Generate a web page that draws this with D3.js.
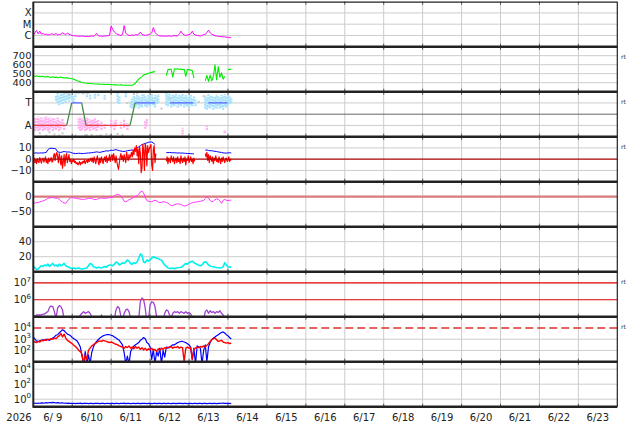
<!DOCTYPE html>
<html><head><meta charset="utf-8">
<script src="https://cdn.jsdelivr.net/npm/d3@7"></script>
<style>
html,body{margin:0;padding:0;background:#fff;}
svg{display:block;font-family:"DejaVu Sans",sans-serif;}
text{white-space:pre;}
</style></head><body>
<svg id="c" width="634" height="424"></svg>
<script>
// ---------------- DATA ----------------
// time axis: days since 2026-06-09 00:00 UT, 15 days shown
const dateLabels = ["6/ 9","6/10","6/11","6/12","6/13","6/14","6/15","6/16","6/17","6/18","6/19","6/20","6/21","6/22","6/23"];
const yearLabel = "2026";
// hourly samples (hours since start)
const hours = d3.range(123);

// X-ray flux, in units of 1e-6 W/m^2 (C-class)
const xrayC = [
1.1,1.8,2.8,1.4,2.4,1.3,1.5,1.2,1.3,1.1,1.2,1.4,
1.3,1.2,1.5,1.1,1.2,1.3,1.7,1.4,1.2,1.6,1.3,1.1,
1.0,0.95,0.9,0.9,0.85,0.85,0.9,0.85,0.8,0.85,0.8,0.85,
0.9,0.85,1.0,1.5,0.95,0.9,0.85,0.85,0.9,0.9,0.95,1.0,
7.0,3.2,2.0,1.5,1.2,1.1,1.0,1.2,7.5,1.6,1.2,1.0,
1.0,1.1,1.0,1.2,1.1,1.3,2.0,1.2,1.1,1.0,1.1,1.2,
1.3,1.7,5.0,1.9,1.3,1.0,0.9,0.9,0.85,0.9,0.85,0.9,
0.9,0.85,0.9,1.0,0.9,0.95,1.3,2.4,1.4,1.1,1.0,1.1,
1.2,1.4,2.4,1.3,1.1,1.0,0.95,0.9,1.0,1.2,1.3,1.8,
2.9,1.7,1.3,1.1,0.95,0.9,0.85,0.8,0.8,0.75,0.75,0.7,
0.7,0.65,0.62];
const xrayTickValues = [1e-4,1e-5,1e-6];
const xrayTickLabels = ["X","M","C"];

// Solar wind speed km/s
const windSpeed = [
478,470,476,468,472,465,471,462,466,470,462,458,
466,457,462,455,460,463,456,454,452,456,449,447,
444,438,430,422,415,409,403,399,396,394,392,391,
389,388,386,385,384,383,382,383,381,380,382,380,
379,378,376,378,375,374,376,373,372,374,371,372,
372,371,380,396,420,440,455,468,485,492,498,505,
510,515,520,525,null,null,null,null,null,null,480,545,
548,552,462,555,550,556,548,552,545,550,470,548,
545,540,535,450,null,null,null,null,null,null,420,480,
415,485,420,470,600,430,580,460,510,440,470,null,
545,550,548];
const speedTickValues = [700,600,500,400];

// IMF sector: scatter ranges [hour, lo, hi] (T = +1, A = -1)
const sectorTowardPts = [
[14,1.2,1.7],[15,1.0,1.9],[16,0.8,1.6],[17,1.1,1.9],[18,0.9,1.8],[19,1.2,1.9],[20,1.0,1.7],[21,1.3,1.9],[22,1.1,1.8],[23,1.4,1.9],[24,1.2,1.8],[25,1.0,1.6],[26,1.5,1.9],
[33,1.5,1.9],[35,1.3,1.8],[38,1.4,1.9],[40,1.6,1.9],[44,1.3,1.7],
[52,1.0,1.9],[53,0.9,1.6],[57,1.5,1.9],
[60,0.6,1.2],[61,0.5,1.4],[62,0.7,1.7],[63,0.6,1.5],[64,0.8,1.8],[65,0.5,1.6],[66,0.7,1.5],[67,0.6,1.7],[68,0.9,1.8],[69,0.7,1.6],[70,0.6,1.4],[71,0.8,1.7],[72,0.7,1.6],[73,0.9,1.8],[74,0.8,1.5],[75,0.6,1.7],[76,0.9,1.6],[77,1.0,1.8],
[82,0.8,1.9],[83,0.7,1.8],[84,0.9,1.9],[85,0.6,1.6],[86,0.8,1.8],[87,0.7,1.7],[88,0.9,1.9],[89,0.6,1.5],[90,0.8,1.7],[91,0.7,1.6],[92,0.9,1.8],[93,0.6,1.6],[94,0.8,1.7],[95,0.7,1.5],[96,0.6,1.6],[97,0.8,1.8],[98,0.7,1.4],[99,0.9,1.6],[100,0.7,1.3],
[106,0.5,1.7],[107,0.4,1.5],[108,0.6,1.8],[109,0.5,1.6],[110,0.7,1.7],[111,0.4,1.5],[112,0.6,1.6],[113,0.5,1.8],[114,0.7,1.6],[115,0.5,1.5],[116,0.6,1.7],[117,0.4,1.6],[118,0.7,1.8],[119,0.6,1.5],[120,0.8,1.7],[121,0.9,1.6],[122,1.0,1.5]];
const sectorAwayPts = [
[0,-1.4,-0.5],[1,-1.5,-0.3],[2,-1.3,-0.4],[3,-1.5,-0.2],[4,-1.4,-0.4],[5,-1.2,-0.3],[6,-1.5,-0.5],[7,-1.4,-0.3],[8,-1.3,-0.2],[9,-1.5,-0.4],[10,-1.4,-0.3],[11,-1.2,-0.5],[12,-1.5,-0.3],[13,-1.3,-0.4],[14,-1.4,-0.6],[15,-1.2,-0.3],[16,-1.5,-0.5],[17,-1.3,-0.7],[18,-1.1,-0.4],[19,-1.4,-0.8],
[28,-1.3,-0.3],[29,-1.5,-0.2],[30,-1.4,-0.4],[31,-1.2,-0.3],[32,-1.5,-0.5],[33,-1.4,-0.3],[34,-1.3,-0.4],[35,-1.5,-0.6],[36,-1.2,-0.4],[37,-1.4,-0.5],[38,-1.3,-0.3],[39,-1.5,-0.6],[40,-1.2,-0.5],[42,-1.4,-0.6],[44,-1.3,-0.8],
[48,-1.2,-0.4],[50,-1.4,-0.6],[51,-1.1,-0.5],[54,-1.3,-0.7],[56,-1.2,-0.4],[58,-1.4,-0.8],
[69,-1.3,-0.6],[70,-1.1,-0.4],[92,-1.8,-1.2],[107,-1.4,-1.0],[118,-1.7,-1.4]];
const sectorOtherPts = [
[20,1.9],[22,1.8],[27,1.95],[30,1.9],[31,1.85],[34,1.9],[13,-1.8],[16,-1.9],[18,-1.7],[32,-1.9],[36,-1.85],[39,-1.95],
[42,-1.9],[45,-1.8],[47,-1.9],[52,-1.75],[55,-1.85],[58,1.0],[62,1.8],[64,1.9],[79,0.5],[84,1.4],[96,0.4],[102,1.1],
[105,1.6],[111,1.0],[23,-1.0],[4,-1.7],[8,-1.9],[10,-1.6],[33,-1.85],[41,-1.9],[28,1.9],[26,-1.9]];
// sector assignment segments (days)
const sectorStart = [0, 0.986, 1.354, 2.612, 3.51, 4.495];
const sectorEnd   = [0.857, 1.243, 2.484, 3.126, 4.11, 4.99];
const sectorState = ["A","T","A","T","T","T"];
const sectorTickLabels = ["T","A"];

// IMF Bt (hourly) and Bz (half-hourly), nT
const imfBt = [
5.5,5.5,5.6,5.4,5.5,5.6,5.5,5.8,6.0,8.5,9.5,9.7,
9.6,9.5,9.0,6.5,6.2,6.0,6.5,6.8,6.6,6.3,6.5,6.0,
5.5,5.2,5.0,5.1,5.3,5.2,5.0,5.1,5.2,5.4,5.5,5.6,
5.8,6.0,6.2,6.5,6.3,6.0,6.4,6.8,7.0,7.5,7.2,7.6,
8.0,7.8,8.2,8.5,8.0,7.6,7.2,7.0,6.8,7.2,7.5,7.8,
8.0,8.2,8.0,8.5,10.0,11.0,12.0,13.0,13.5,14.0,14.5,15.0,
15.3,15.3,14.5,13.0,null,null,null,null,null,null,6.0,5.8,
6.0,5.8,5.7,5.8,5.6,5.5,5.6,5.4,5.5,5.3,5.2,5.0,
5.1,4.9,4.8,4.8,null,null,null,null,null,null,8.0,8.2,
7.8,7.5,7.6,7.2,7.0,6.8,6.5,6.2,6.0,5.6,5.5,5.4,
5.6,5.8,5.5];
const halfHours = d3.range(245).map(i => i / 2);
const imfBz = [
-1,1,-3,-0.5,-4,0.5,-2,-3,1.5,-1,-3.5,0,1,-2.5,-1,2,-3,-0.5,-4,1,-2,-1,1.5,-2.5,
-2,3,5,-1,4,6,2,-3,5,1,-5,3,-8,-2,4,-6,2,5,-3,1,4,-2,0,-4,
-1,-2,0,-3,-2,-4,-3,-5,-4,-2,-5,-3,-4,-2,-3,-1,-4,-2,-1,-3,0,-2,-1,1,
-2,1,-3,2,-1,-4,0,3,-2,-5,1,-3,2,-1,-4,0,2,-2,3,-3,1,-1,4,-2,
2,4,-1,5,1,-3,3,-2,-6,-9,-4,2,5,0,3,-2,4,1,-3,6,2,-1,4,1,
3,6,2,8,4,10,7,12,3,9,-4,11,5,-12,-8,13,8,-10,14,10,-6,12,6,9,
11,13,-5,-10,8,12,-3,5,
null,null,null,null,null,null,null,null,null,null,null,null,
-2,2,-4,1,-1,-3,3,0,-2,2,-4,-1,1,-3,2,-2,0,-4,3,-1,-3,1,-2,2,-5,0,-1,3,-3,-1,2,-2,0,-4,1,-2,
null,null,null,null,null,null,null,null,null,null,null,null,
5,2,6,-1,4,-3,3,1,-2,2,-4,1,-1,3,-2,0,-3,2,-1,-4,1,-2,2,-1,-3,0,1,-2,-1,2,-2,0,-1];
const imfTickValues = [10,-10];
const imfTickLabels = ["10","0","\u221210"];

// Dst index nT (hourly)
const dst = [
-22,-21,-20,-19,-17,-16,-14,-12,-9,-6,-4,-3,
-3,-4,-5,-5,-9,-14,-18,-21,-22,-15,-8,-4,
-3,-4,-5,-6,-7,-8,-9,-9,-8,-7,-6,-5,
-6,-8,-10,-9,-7,-5,-4,-5,-6,-5,-4,-3,
-3,-1,3,6,8,6,2,-5,-15,-17,-14,-10,
-8,-5,-2,1,3,8,16,19,12,-2,-13,-15,
-17,-16,-14,-12,-14,-18,-20,-19,-17,-17,-19,-22,
-26,-30,-29,-27,-25,-24,-24,-26,-29,-31,-30,-28,
-25,-22,-20,-19,-18,-17,-16,-15,-14,-13,-6,0,
-5,-12,-17,-15,-10,-7,-9,-14,-22,-12,-9,-12,
-13,-12,-11];
const dstTickLabels = ["0","\u221250"];

// Solar wind density /cc (hourly)
const density = [
7.6,5,3,3.5,6,8,7,9,8,10,7,9,
11,8,9,7,10,8,9,11,8,7,6,5,
4.5,5,4,4.5,5,4,3.5,4,4.5,5,8,11,
10,7,6,5,6,5.5,5,6,7,6,8,9,
9,8,10,13,12,9,10,12,11,13,15.6,14,
11,10,12,11,13,18,23.6,22,13,12,15.6,14,
16,18,20,19,18,17.8,16,15.6,12,9,7,5,
4.5,4.5,5,4,5,5.3,5.5,6,7,9,11,10,
12,13,14,12,11,9.3,9,8,9,12,13.3,12,
9,7.6,7,6.5,6,5.5,5.3,5,5.3,6.5,12,9,
6.3,6.5,6];
const densityTickValues = [40,20];

// >2 MeV electron flux, log10 (hourly)
const electronLog10 = [
4.9,5.05,5.1,5.1,5.1,5.1,5.15,5.15,5.25,5.3,5.55,5.63,
5.6,5.3,4.9,5.5,5.65,5.6,5.4,4.8,4.7,4.7,4.7,4.7,
4.7,4.7,4.7,4.8,4.9,5.1,5.2,5.3,5.2,5.25,5.3,5.2,
5.0,4.8,4.7,4.7,4.7,4.7,5.1,4.8,4.7,4.7,4.7,4.7,
4.7,4.7,4.9,5.4,5.6,5.5,5.0,4.8,5.2,5.4,5.45,5.3,
4.9,4.7,4.7,4.7,4.7,4.9,5.9,6.1,6.0,5.5,4.7,4.8,
5.7,5.88,5.85,5.6,5.0,4.7,4.7,4.7,4.7,5.2,5.4,5.35,
5.1,4.9,5.2,5.3,5.25,5.3,5.2,5.3,5.25,5.2,5.3,5.2,
5.25,5.15,5.0,4.8,4.7,4.7,4.7,4.7,4.7,4.8,5.3,5.4,
5.2,5.35,5.25,5.3,5.2,5.3,5.25,5.35,5.2,5.1,4.9,4.7,
4.7,4.7,4.8];
const electronRefLines = [1e7,1e6];

// particle flux, log10 (hourly): blue and red channels
const fluxBlueLog10 = [
3.2,3.0,2.85,2.8,2.85,2.9,2.95,2.9,3.0,2.95,2.9,3.0,
3.1,3.2,3.35,3.4,3.55,3.7,3.85,3.75,3.6,3.45,3.4,3.3,
3.15,3.05,2.95,2.85,2.6,2.3,1.5,0.8,1.9,0.8,1.6,0.8,
1.8,2.3,2.6,2.8,2.95,3.1,3.2,3.3,3.35,3.4,3.4,3.4,
3.35,3.3,3.2,3.1,3.0,2.9,2.7,2.5,1.8,0.8,1.5,0.8,
1.9,2.2,2.4,2.5,2.6,2.7,2.9,3.0,3.15,3.05,2.7,2.6,
2.3,1.2,2.1,0.8,1.9,1.5,2.2,0.8,2.0,1.4,2.3,2.2,
2.3,2.4,2.5,2.5,2.6,2.7,2.75,2.8,2.8,2.75,2.7,2.6,
2.5,2.3,1.2,2.2,0.8,2.4,2.3,2.2,0.8,2.0,2.5,1.0,
2.3,2.7,2.95,3.1,3.2,3.3,3.4,3.5,3.6,3.65,3.55,3.4,
3.3,3.15,3.0];
const fluxRedLog10 = [
2.8,2.75,2.7,2.8,2.75,2.9,2.85,2.95,2.9,3.0,2.95,3.05,
3.0,3.1,3.05,3.2,3.3,3.5,3.2,3.45,3.1,2.9,2.8,2.7,
2.6,2.45,2.35,2.2,2.0,1.9,1.7,0.8,1.6,1.2,2.0,2.2,
2.4,2.5,2.6,2.7,2.8,2.85,2.8,2.9,2.85,2.8,2.75,2.7,
2.75,2.7,2.6,2.55,2.5,2.4,2.35,2.3,2.2,2.35,2.25,2.4,
2.2,2.3,2.15,2.35,2.2,2.3,2.1,2.25,2.05,2.2,2.0,2.15,
2.05,2.2,2.0,2.1,1.9,2.15,2.0,2.2,2.1,2.25,2.2,2.3,
2.25,2.35,2.2,2.3,2.25,2.35,2.2,2.3,2.25,1.0,2.2,2.3,
2.2,2.25,1.2,2.1,2.2,2.3,2.25,2.35,2.3,2.4,2.3,2.45,
2.6,2.8,2.95,3.05,3.1,2.95,2.8,2.85,2.9,2.75,2.7,2.65,
2.7,2.6,2.65];
const fluxTickValues = [1e4,1e3,1e2];
const fluxThreshold = 1e4;

// bottom panel flux (hourly)
const lowFlux = [
0.28,0.31,0.27,0.30,0.29,0.33,0.30,0.31,0.34,0.31,0.36,0.33,0.37,0.34,0.31,0.35,0.32,0.30,0.34,0.29,0.31,0.28,0.30,0.27,
0.27,0.29,0.26,0.28,0.27,0.30,0.26,0.28,0.27,0.29,0.26,0.28,0.27,0.26,0.28,0.27,0.29,0.26,0.27,0.28,0.26,0.27,0.29,0.26,
0.27,0.28,0.26,0.29,0.27,0.26,0.28,0.27,0.30,0.26,0.27,0.28,0.26,0.27,0.29,0.26,0.28,0.27,0.26,0.28,0.27,0.29,0.26,0.27,
0.28,0.26,0.27,0.29,0.26,0.27,0.28,0.26,0.27,0.28,0.26,0.29,0.27,0.26,0.28,0.27,0.26,0.28,0.27,0.29,0.26,0.27,0.28,0.26,
0.27,0.28,0.26,0.27,0.29,0.26,0.27,0.28,0.26,0.27,0.28,0.26,0.27,0.29,0.26,0.28,0.27,0.26,0.28,0.27,0.29,0.30,0.28,0.27,
0.28,0.27,0.26];
const lowTickValues = [1e4,1e2,1e0];

// ---------------- DRAWING ----------------
const svg = d3.select('#c');
const L = 33.3, R = 617.3, TOP = 1.7, PH = 45, NP = 9;
const x = d3.scaleLinear().domain([0, 15]).range([L, R]);
const hx = h => x(h / 24);
const pTop = i => TOP + i * PH, pBot = i => TOP + (i + 1) * PH;
const GRID = '#cccccc';

const defs = svg.append('defs');
for (let i = 0; i < NP; i++) {
  defs.append('clipPath').attr('id', 'clip' + i).append('rect')
    .attr('x', L).attr('y', pTop(i)).attr('width', R - L).attr('height', PH);
}
const gGrid = svg.append('g');
const gData = svg.append('g');
const gFrame = svg.append('g');
const gText = svg.append('g').attr('font-size', 10).attr('fill', '#222');

// scales
const ys = [
  d3.scaleLog().domain([1e-7, 1e-3]).range([pBot(0), pTop(0)]),
  d3.scaleLinear().domain([300, 800]).range([pBot(1), pTop(1)]),
  d3.scaleLinear().domain([-2, 2]).range([pBot(2), pTop(2)]),
  d3.scaleLinear().domain([-20, 20]).range([pBot(3), pTop(3)]),
  d3.scaleLinear().domain([-100, 50]).range([pBot(4), pTop(4)]),
  d3.scaleLinear().domain([0, 60]).range([pBot(5), pTop(5)]),
  d3.scaleLog().domain([1e5, 4.5e7]).range([pBot(6), pTop(6)]),
  d3.scaleLog().domain([1e1, 1e5]).range([pBot(7), pTop(7)]),
  d3.scaleLog().domain([1e-1, 1e5]).range([pBot(8), pTop(8)])
];

// vertical day grid
const dayBounds = d3.range(1, 15);
gGrid.selectAll('line.v').data(dayBounds).enter().append('line')
  .attr('x1', d => x(d)).attr('x2', d => x(d)).attr('y1', TOP).attr('y2', pBot(8))
  .attr('stroke', GRID).attr('stroke-width', 1);

function hline(g, i, v, color, w, dash) {
  const y = ys[i](v);
  const l = g.append('line').attr('x1', L).attr('x2', R).attr('y1', y).attr('y2', y)
    .attr('stroke', color).attr('stroke-width', w);
  if (dash) l.attr('stroke-dasharray', dash);
}
// horizontal grids
xrayTickValues.forEach(v => hline(gGrid, 0, v, GRID, 1));
speedTickValues.forEach(v => hline(gGrid, 1, v, GRID, 1));
[1, -1].forEach(v => hline(gGrid, 2, v, GRID, 1));
imfTickValues.forEach(v => hline(gGrid, 3, v, GRID, 1));
hline(gGrid, 4, -50, GRID, 1);
densityTickValues.forEach(v => hline(gGrid, 5, v, GRID, 1));
[1e3, 1e2].forEach(v => hline(gGrid, 7, v, GRID, 1));
lowTickValues.forEach(v => hline(gGrid, 8, v, GRID, 1));

// reference lines
hline(gGrid, 2, 0, '#666', 1);
hline(gGrid, 4, 0, '#d97a7a', 2.2);

function panelG(i) { return gData.append('g').attr('clip-path', 'url(#clip' + i + ')'); }
function drawSeries(i, ts, vals, toVal, color, w, toX) {
  const pts = ts.map((t, k) => [t, vals[k]]);
  const line = d3.line().defined(d => d[1] != null)
    .x(d => (toX || hx)(d[0])).y(d => ys[i](toVal(d[1])));
  panelG(i).append('path').datum(pts).attr('d', line)
    .attr('fill', 'none').attr('stroke', color).attr('stroke-width', w)
    .attr('stroke-linejoin', 'round');
}
const id = v => v, p10 = v => Math.pow(10, v);

// panel 0 xray
drawSeries(0, hours, xrayC, v => v * 1e-6, '#ff00ff', 1);
// panel 1 speed
drawSeries(1, hours, windSpeed, id, '#00ee00', 1.1);
// panel 2 sector scatter
{
  const g = panelG(2);
  g.selectAll('line.t').data(sectorTowardPts).enter().append('line')
    .attr('x1', d => hx(d[0])).attr('x2', d => hx(d[0]))
    .attr('y1', d => ys[2](d[1])).attr('y2', d => ys[2](d[2]))
    .attr('stroke', '#a6e0fb').attr('stroke-width', 2.4).attr('stroke-dasharray', '2,0.8');
  g.selectAll('line.a').data(sectorAwayPts).enter().append('line')
    .attr('x1', d => hx(d[0])).attr('x2', d => hx(d[0]))
    .attr('y1', d => ys[2](d[1])).attr('y2', d => ys[2](d[2]))
    .attr('stroke', '#ffb0f0').attr('stroke-width', 2.4).attr('stroke-dasharray', '2,0.8');
  g.selectAll('rect.o').data(sectorOtherPts).enter().append('rect')
    .attr('x', d => hx(d[0]) - 1).attr('y', d => ys[2](d[1]) - 1)
    .attr('width', 2).attr('height', 2).attr('fill', '#c8c8c8');
  const sv = s => s === 'T' ? 1 : -1;
  sectorStart.forEach((s, k) => {
    g.append('line').attr('x1', x(s)).attr('x2', x(sectorEnd[k]))
      .attr('y1', ys[2](sv(sectorState[k]))).attr('y2', ys[2](sv(sectorState[k])))
      .attr('stroke', sectorState[k] === 'T' ? '#5566ff' : '#e84040').attr('stroke-width', 1.3);
    if (k + 1 < sectorStart.length && sectorStart[k + 1] - sectorEnd[k] < 0.2 && sectorState[k + 1] !== sectorState[k]) {
      g.append('line').attr('x1', x(sectorEnd[k])).attr('x2', x(sectorStart[k + 1]))
        .attr('y1', ys[2](sv(sectorState[k]))).attr('y2', ys[2](sv(sectorState[k + 1])))
        .attr('stroke', '#4a8a4a').attr('stroke-width', 1.3);
    }
  });
}
// panel 3 IMF
drawSeries(3, hours, imfBt, id, '#0000ff', 1);
drawSeries(3, halfHours, imfBz, id, '#ff0000', 1.2);
hline(gData, 3, 0, '#aa0000', 1.2);
// panel 4 Dst
drawSeries(4, hours, dst, id, '#ff33ff', 1);
// panel 5 density
drawSeries(5, hours, density, id, '#00f0f0', 1.6);
// panel 6 electrons
electronRefLines.forEach(v => hline(gGrid, 6, v, '#dd0000', 1.2));
drawSeries(6, hours, electronLog10, p10, '#a040d0', 1.3);
// panel 7 particle flux
hline(gGrid, 7, fluxThreshold, '#e03030', 1.5, '8,4');
drawSeries(7, hours, fluxBlueLog10, p10, '#0000ff', 1.2);
drawSeries(7, hours, fluxRedLog10, p10, '#ff0000', 1.4);
// panel 8
drawSeries(8, hours, lowFlux, id, '#0000ff', 1.2);

// small ticks at day boundaries on each panel edge
for (let i = 0; i < NP; i++) {
  dayBounds.forEach(d => {
    gFrame.append('line').attr('x1', x(d)).attr('x2', x(d)).attr('y1', pTop(i)).attr('y2', pTop(i) + 3).attr('stroke', '#555').attr('stroke-width', 1);
    gFrame.append('line').attr('x1', x(d)).attr('x2', x(d)).attr('y1', pBot(i) - 3).attr('y2', pBot(i)).attr('stroke', '#555').attr('stroke-width', 1);
  });
}
// frame
gFrame.append('line').attr('x1', L).attr('x2', R).attr('y1', TOP + 0.5).attr('y2', TOP + 0.5).attr('stroke', '#222').attr('stroke-width', 1.2);
gFrame.append('line').attr('x1', R).attr('x2', R).attr('y1', TOP).attr('y2', pBot(8)).attr('stroke', '#222').attr('stroke-width', 1.2);
gFrame.append('line').attr('x1', L).attr('x2', L).attr('y1', TOP).attr('y2', pBot(8) + 1).attr('stroke', '#222').attr('stroke-width', 2);
for (let i = 0; i < NP; i++) {
  gFrame.append('line').attr('x1', L).attr('x2', R).attr('y1', pBot(i)).attr('y2', pBot(i)).attr('stroke', '#222').attr('stroke-width', 2.4);
}

// y labels
const LX = 31.5;
function ylab(i, v, label, fs) {
  const t = gText.append('text').attr('x', LX).attr('y', ys[i](v)).attr('text-anchor', 'end')
    .attr('dominant-baseline', 'central').text(label);
  if (fs) t.attr('font-size', fs).attr('textLength', 19).attr('lengthAdjust', 'spacingAndGlyphs');
}
function ylabPow(i, v, expo) {
  const t = gText.append('text').attr('x', LX - 0.5).attr('y', ys[i](v) + 3.4).attr('text-anchor', 'end');
  t.append('tspan').text('10');
  t.append('tspan').attr('dy', -4.3).attr('font-size', 7).text(expo);
}
xrayTickValues.forEach((v, k) => ylab(0, v, xrayTickLabels[k]));
speedTickValues.forEach(v => ylab(1, v, String(v), 8.2));
[1, -1].forEach((v, k) => ylab(2, v, sectorTickLabels[k]));
[10, 0, -10].forEach((v, k) => ylab(3, v, imfTickLabels[k]));
[0, -50].forEach((v, k) => ylab(4, v, dstTickLabels[k]));
densityTickValues.forEach(v => ylab(5, v, String(v)));
electronRefLines.forEach(v => ylabPow(6, v, String(Math.round(Math.log10(v)))));
fluxTickValues.forEach(v => ylabPow(7, v, String(Math.round(Math.log10(v)))));
lowTickValues.forEach(v => ylabPow(8, v, String(Math.round(Math.log10(v)))));

// "rt" markers on right
[1, 2, 3, 6, 7].forEach(i => {
  gText.append('text').attr('x', 621).attr('y', pTop(i) + 12).attr('font-size', 6).attr('fill', '#333').text('rt');
});

// x labels
const XY = 420.5;
gText.append('text').attr('x', 19).attr('y', XY).attr('text-anchor', 'middle').text(yearLabel);
dateLabels.forEach((lab, k) => {
  gText.append('text').attr('x', x(k + 0.5)).attr('y', XY).attr('text-anchor', 'middle').text(lab);
});
</script>
</body></html>
